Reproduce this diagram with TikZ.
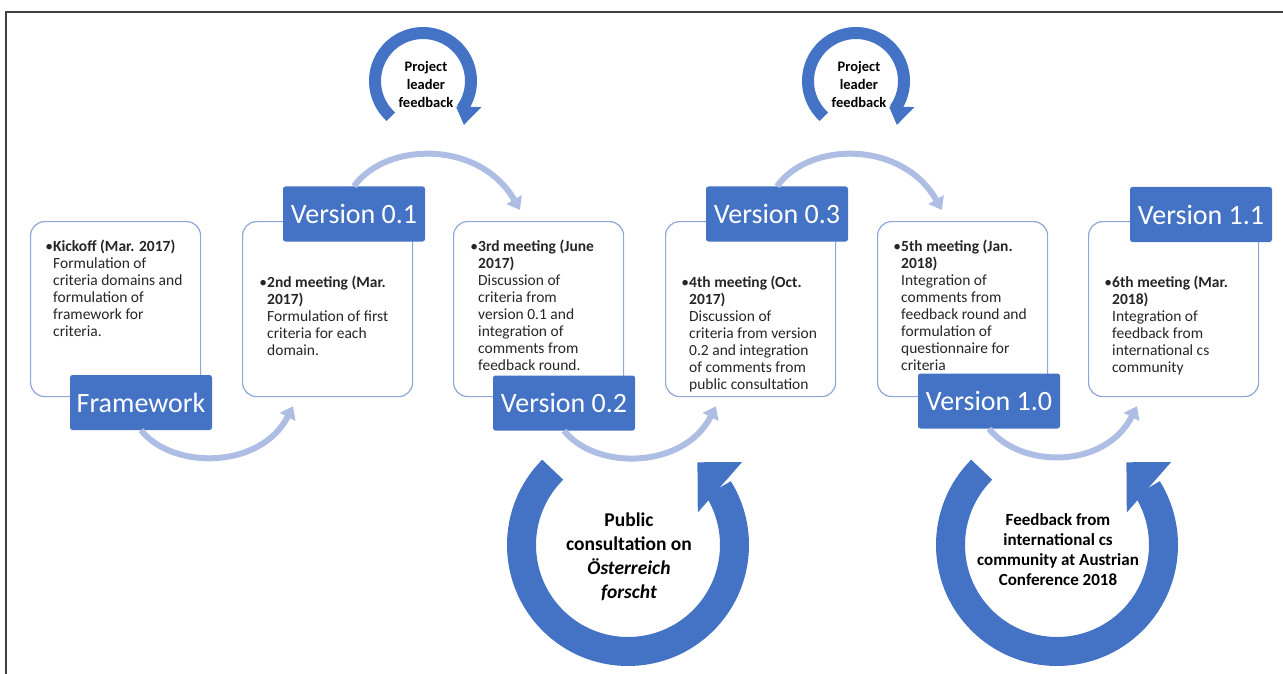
\documentclass[tikz,border=0pt]{standalone}
\usepackage{fontspec}
\setmainfont{Carlito}
\usetikzlibrary{arrows.meta}
\definecolor{mainblue}{HTML}{4472C4}
\definecolor{arcblue}{HTML}{AEBDE3}
\definecolor{boxline}{HTML}{8EA6D8}
\definecolor{textgray}{HTML}{262626}
\definecolor{framegray}{HTML}{404040}
\begin{document}
\begin{tikzpicture}[x=1pt,y=-1pt,
	stagebox/.style={draw=boxline,line width=1.2pt,rounded corners=14pt,fill=white,
		minimum width=170pt,minimum height=175pt,anchor=north west},
	verlabel/.style={fill=mainblue,rounded corners=2.5pt,text=white,inner sep=0pt,
		minimum width=142pt,minimum height=55pt,font=\fontsize{28}{32}\selectfont},
	stagetext/.style={anchor=north west,align=left,inner sep=0pt,text=textgray,
		font=\fontsize{15.5}{17}\selectfont},
	flowarc/.style={draw=arcblue,line width=6pt,-{Triangle[length=12pt,width=17pt]}},
	looptext/.style={align=center,inner sep=0pt,font=\bfseries\fontsize{14.5}{18}\selectfont}]
\useasboundingbox (0,0) rectangle (1283,674);
\draw[framegray,line width=1.3pt] (6,674) -- (6,12) -- (1283,12);

% stage boxes
\node[stagebox] (box1) at (30,221) {};
\node[stagebox] (box2) at (242,221) {};
\node[stagebox] (box3) at (453,221) {};
\node[stagebox] (box4) at (665,221) {};
\node[stagebox] (box5) at (877,221) {};
\node[stagebox] (box6) at (1088,221) {};

\node[stagetext] (txt1) at (53,240) {\llap{\textbullet}\textbf{Kickoff (Mar. 2017)}\\
	Formulation of\\ criteria domains and\\ formulation of\\ framework for\\ criteria.};
\node[stagetext] (txt2) at (267,276) {\llap{\textbullet}\textbf{2nd meeting (Mar.}\\ \textbf{2017)}\\
	Formulation of first\\ criteria for each\\ domain.};
\node[stagetext] (txt3) at (478,240) {\llap{\textbullet}\textbf{3rd meeting (June}\\ \textbf{2017)}\\
	Discussion of\\ criteria from\\ version 0.1 and\\ integration of\\ comments from\\ feedback round.};
\node[stagetext] (txt4) at (689,276) {\llap{\textbullet}\textbf{4th meeting (Oct.}\\ \textbf{2017)}\\
	Discussion of\\ criteria from version\\ 0.2 and integration\\ of comments from\\ public consultation};
\node[stagetext] (txt5) at (901,240) {\llap{\textbullet}\textbf{5th meeting (Jan.}\\ \textbf{2018)}\\
	Integration of\\ comments from\\ feedback round and\\ formulation of\\ questionnaire for\\ criteria};
\node[stagetext] (txt6) at (1112,276) {\llap{\textbullet}\textbf{6th meeting (Mar.}\\ \textbf{2018)}\\
	Integration of\\ feedback from\\ international cs\\ community};

% version labels
\node[verlabel] (fw)  at (141,402.5) {Framework};
\node[verlabel] (v01) at (354,214) {Version 0.1};
\node[verlabel] (v02) at (564,403) {Version 0.2};
\node[verlabel] (v03) at (777,214) {Version 0.3};
\node[verlabel] (v10) at (989,401) {Version 1.0};
\node[verlabel] (v11) at (1201,214.5) {Version 1.1};

% flow between stages
\draw[flowarc] (fw.south) .. controls +(32,40) and +(-32,63) .. ([xshift=51pt,yshift=-9pt]box2.south west);
\draw[flowarc] (v01.north) .. controls +(32,-45) and +(-40,-70) .. ([xshift=67pt,yshift=11pt]box3.north west);
\draw[flowarc] (v02.south) .. controls +(32,40) and +(-32,63) .. ([xshift=51pt,yshift=-9pt]box4.south west);
\draw[flowarc] (v03.north) .. controls +(32,-45) and +(-40,-70) .. ([xshift=65pt,yshift=11pt]box5.north west);
\draw[flowarc] (v10.south) .. controls +(32,40) and +(-32,63) .. ([xshift=49pt,yshift=-9pt]box6.south west);

% feedback loops
\coordinate (lp1) at (423,81);
\coordinate (lp2) at (856,81);
\coordinate (lp3) at (628,545);
\coordinate (lp4) at (1057,545);
\node[looptext] (pl1) at (426,84) {Project\\ leader\\ feedback};
\node[looptext] (pl2) at (859,84) {Project\\ leader\\ feedback};
\draw[mainblue,line width=12pt] (lp1) ++(-228:48) arc[start angle=-228,end angle=36,radius=48];
\fill[mainblue,shift={(lp1)}] (38:42) -- (47:60) -- (24:64) -- cycle;
\draw[mainblue,line width=12pt] (lp2) ++(-228:48) arc[start angle=-228,end angle=36,radius=48];
\fill[mainblue,shift={(lp2)}] (38:42) -- (47:60) -- (24:64) -- cycle;

\node[looptext,font=\bfseries\fontsize{19.5}{24}\selectfont] (pc) at (629,557)
	{Public\\ consultation on\\ \textit{Österreich}\\ \textit{forscht}};
\node[looptext,font=\bfseries\fontsize{17}{20}\selectfont] (cf) at (1058,550)
	{Feedback from\\ international cs\\ community at Austrian\\ Conference 2018};
\draw[mainblue,line width=29pt] (lp3) ++(-135:106.5) arc[start angle=-135,end angle=-392,radius=106.5];
\fill[mainblue,shift={(lp3)}] (-25:77) -- (-50:108) -- (-36:141) -- cycle;
\draw[mainblue,line width=29pt] (lp4) ++(-135:106.5) arc[start angle=-135,end angle=-392,radius=106.5];
\fill[mainblue,shift={(lp4)}] (-25:77) -- (-50:108) -- (-36:141) -- cycle;
\end{tikzpicture}
\end{document}
